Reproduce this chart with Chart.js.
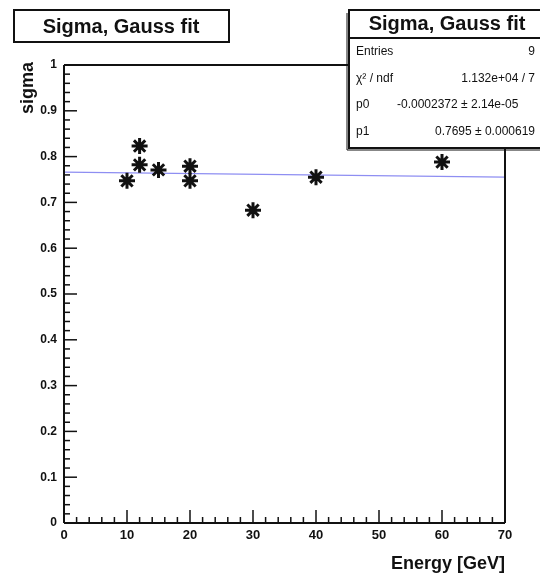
<!DOCTYPE html>
<html>
<head>
<meta charset="utf-8">
<script src="https://cdn.jsdelivr.net/npm/chart.js@4.4.0/dist/chart.umd.min.js"></script>
<style>
  html, body { margin: 0; padding: 0; background: #fff; }
  #wrap { width: 540px; height: 574px; }
</style>
</head>
<body>
<div id="wrap"><canvas id="chart" width="540" height="574"></canvas></div>
<script>
// measured points (energy in GeV, fitted gaussian sigma)
const ENERGY = [10, 12, 12, 15, 20, 20, 30, 40, 60];
const SIGMA = [0.747, 0.823, 0.782, 0.771, 0.779, 0.747, 0.683, 0.755, 0.788];

// fit line (ends of the frame)
const FIT_X = [0, 70];
const FIT_Y = [0.766, 0.755];

const X_RANGE = [0, 70];
const Y_RANGE = [0, 1];

const TITLE = 'Sigma, Gauss fit';
const STAT_LABELS = ['Entries', 'χ² / ndf', 'p0', 'p1'];
const STAT_VALUES = ['9', '1.132e+04 / 7', '-0.0002372 ± 2.14e-05', '0.7695 ± 0.000619'];

const FONT = "'Liberation Sans', Arial, Helvetica, sans-serif";
const INK = '#111';

const toPoints = (xs, ys) => xs.map((x, i) => ({ x, y: ys[i] }));

const line = (ctx, x1, y1, x2, y2) => {
  ctx.beginPath();
  ctx.moveTo(x1, y1);
  ctx.lineTo(x2, y2);
  ctx.stroke();
};

// ROOT style frame: inside ticks, title box, stats box, axis titles
const rootFrame = {
  id: 'rootFrame',
  afterDraw(chart) {
    const { ctx, chartArea: a, scales: { x, y } } = chart;
    const box = { left: 349, top: 10, sep: 38, bottom: 148 };
    ctx.save();
    ctx.strokeStyle = INK;

    // ticks
    ctx.lineWidth = 1.5;
    for (let i = 0; i <= 35; i++) {
      const px = x.getPixelForValue(i * 2);
      line(ctx, px, a.bottom, px, a.bottom - (i % 5 === 0 ? 13 : 6));
    }
    for (let i = 0; i <= 50; i++) {
      const py = y.getPixelForValue(i / 50);
      line(ctx, a.left, py, a.left + (i % 5 === 0 ? 13 : 6), py);
    }

    // frame
    ctx.lineWidth = 2;
    line(ctx, a.left, a.top, a.left, a.bottom);
    line(ctx, a.left, a.bottom, a.right, a.bottom);
    line(ctx, a.left, a.top, box.left, a.top);
    line(ctx, a.right, box.bottom, a.right, a.bottom);

    // title box
    ctx.fillStyle = '#fff';
    ctx.fillRect(14, 10, 215, 32);
    ctx.strokeRect(14, 10, 215, 32);
    ctx.fillStyle = INK;
    ctx.font = `bold 20px ${FONT}`;
    ctx.textAlign = 'center';
    ctx.textBaseline = 'middle';
    ctx.fillText(TITLE, 121, 27);

    // stats box
    ctx.fillStyle = '#fff';
    ctx.fillRect(box.left, box.top, 200, box.bottom - box.top);
    ctx.lineWidth = 2;
    ctx.strokeRect(box.left, box.top, 200, box.bottom - box.top);
    ctx.lineWidth = 1;
    line(ctx, box.left - 2, box.top + 3, box.left - 2, box.bottom + 2);
    line(ctx, box.left - 2, box.bottom + 2, 540, box.bottom + 2);
    ctx.lineWidth = 2;
    line(ctx, box.left, box.sep, 540, box.sep);
    ctx.fillStyle = INK;
    ctx.font = `bold 20px ${FONT}`;
    ctx.textAlign = 'center';
    ctx.fillText(TITLE, 447, 24);
    ctx.font = `12px ${FONT}`;
    const rowY = [52, 79, 105, 132];
    STAT_LABELS.forEach((lab, i) => {
      ctx.textAlign = 'left';
      ctx.fillText(lab, 356, rowY[i]);
      if (i === 2) {
        ctx.fillText(STAT_VALUES[i], 397, rowY[i]);
      } else {
        ctx.textAlign = 'right';
        ctx.fillText(STAT_VALUES[i], 535, rowY[i]);
      }
    });

    // axis titles
    ctx.font = `bold 18px ${FONT}`;
    ctx.textAlign = 'right';
    ctx.fillText('Energy [GeV]', a.right, 564);
    ctx.translate(28, a.top - 3);
    ctx.rotate(-Math.PI / 2);
    ctx.fillText('sigma', 0, 0);
    ctx.restore();
  },
};

new Chart(document.getElementById('chart'), {
  type: 'scatter',
  data: {
    datasets: [
      {
        label: 'fit',
        data: toPoints(FIT_X, FIT_Y),
        showLine: true,
        borderColor: '#8e8ef2',
        borderWidth: 1.3,
        pointRadius: 0,
        order: 2,
      },
      {
        label: 'sigma',
        data: toPoints(ENERGY, SIGMA),
        pointStyle: 'star',
        pointRadius: 8,
        borderWidth: 3,
        borderColor: INK,
        backgroundColor: INK,
        order: 1,
      },
    ],
  },
  options: {
    responsive: false,
    animation: false,
    devicePixelRatio: 1,
    layout: { padding: { left: 0, right: 35, top: 65, bottom: 0 } },
    plugins: {
      legend: { display: false },
      tooltip: { enabled: false },
    },
    scales: {
      x: {
        type: 'linear',
        min: X_RANGE[0],
        max: X_RANGE[1],
        grid: { display: false },
        border: { display: false },
        ticks: {
          stepSize: 10,
          color: INK,
          padding: -3,
          font: { family: FONT, size: 13, weight: 'bold' },
        },
        afterFit: (s) => { s.height = 51; },
      },
      y: {
        type: 'linear',
        min: Y_RANGE[0],
        max: Y_RANGE[1],
        grid: { display: false },
        border: { display: false },
        ticks: {
          stepSize: 0.1,
          color: INK,
          padding: -1,
          font: { family: FONT, size: 12, weight: 'bold' },
          callback: (v) => (v === 0 || v === 1 ? String(v) : v.toFixed(1)),
        },
        afterFit: (s) => { s.width = 64; },
      },
    },
  },
  plugins: [rootFrame],
});
</script>
</body>
</html>
